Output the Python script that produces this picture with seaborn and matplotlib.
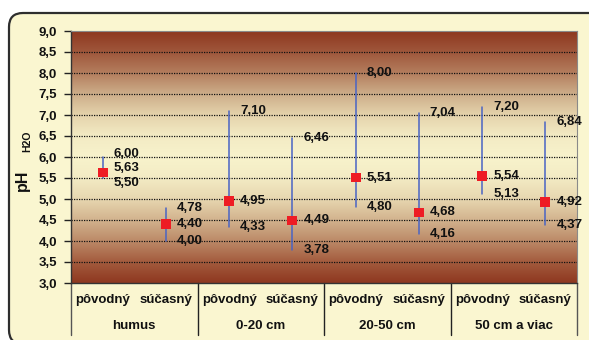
import numpy as np
import pandas as pd
import seaborn as sns
import matplotlib
matplotlib.use("Agg")
import matplotlib.pyplot as plt
from matplotlib.colors import LinearSegmentedColormap
from matplotlib.patches import FancyBboxPatch
from matplotlib.transforms import IdentityTransform

# --- data -------------------------------------------------------------
groups = ["humus", "0-20 cm", "20-50 cm", "50 cm a viac"]
states = ["pôvodný", "súčasný"]
ph_max = [6.00, 4.78, 7.10, 6.46, 8.00, 7.04, 7.20, 6.84]
ph_mean = [5.63, 4.40, 4.95, 4.49, 5.51, 4.68, 5.54, 4.92]
ph_min = [5.50, 4.00, 4.33, 3.78, 4.80, 4.16, 5.13, 4.37]
y_ticks = [3.0, 3.5, 4.0, 4.5, 5.0, 5.5, 6.0, 6.5, 7.0, 7.5, 8.0, 8.5, 9.0]

# --- styling ----------------------------------------------------------
W, H = 589, 340
FONT = "Liberation Sans"
CREAM = "#FAF6D0"
RANGE_COLOR = "#4A64C4"
MEAN_COLOR = "#EE1C24"
FS = 9.5
# vertical nudges (pixels) for labels that would otherwise collide
nudge = {0: (3, 5, -5)}

sns.set_theme(style="white")
plt.rcParams["font.family"] = [FONT, "DejaVu Sans"]
plt.rcParams["font.weight"] = "bold"

n = len(ph_mean)
pos = np.arange(n)
cats = [f"{g}|{s}" for g in groups for s in states]

ranges = pd.DataFrame({
    "pos": np.concatenate([pos, pos]),
    "ph": ph_min + ph_max,
    "cat": cats + cats,
})
means = pd.DataFrame({"pos": pos, "ph": ph_mean, "cat": cats})

fig = plt.figure(figsize=(W / 100, H / 100), dpi=100)
fig.patch.set_facecolor("white")

# rounded frame around the whole chart
frame = FancyBboxPatch((9, -4), 620, H - 13 + 4,
                       boxstyle="round,pad=0,rounding_size=14",
                       transform=IdentityTransform(), facecolor=CREAM,
                       edgecolor="#2E2E2E", linewidth=1.6, zorder=-10)
fig.patches.append(frame)

x0, x1, ytop, ybot = 71, 577, 31, 283
ax = fig.add_axes([x0 / W, 1 - ybot / H, (x1 - x0) / W, (ybot - ytop) / H])
ax.set_zorder(1)
ax.set_facecolor("none")

# soil-like vertical gradient background
grad_cmap = LinearSegmentedColormap.from_list("soil", [
    (0.00, "#8E3820"), (0.083, "#A45C3E"), (0.167, "#BC8A68"),
    (0.25, "#D2B38E"), (0.333, "#E7D7B0"), (0.417, "#F3EBC4"),
    (0.5, "#F8F3CC"), (0.583, "#F3EBC4"), (0.667, "#E5D3AC"),
    (0.75, "#CDAE8A"), (0.833, "#B47E5E"), (0.917, "#A0583C"),
    (1.00, "#8E3820"),
])
grad = np.linspace(0, 1, 256).reshape(-1, 1)
ax.imshow(grad, extent=[-0.5, n - 0.5, 3, 9], aspect="auto", origin="lower",
          cmap=grad_cmap, zorder=0)

for yv in y_ticks[1:-1]:
    ax.axhline(yv, color="#111111", lw=0.9, ls=(0, (1, 1)), zorder=1)

sns.lineplot(data=ranges, x="pos", y="ph", units="cat", estimator=None,
             color=RANGE_COLOR, lw=1.1, ax=ax, zorder=3, legend=False)
sns.scatterplot(data=means, x="pos", y="ph", marker="s", s=50,
                color=MEAN_COLOR, edgecolor="none", ax=ax, zorder=4,
                legend=False)

def fmt(v):
    return f"{v:.2f}".replace(".", ",")

for i in range(n):
    d_max, d_mean, d_min = nudge.get(i, (0, 0, 0))
    for val, dy in ((ph_max[i], d_max), (ph_mean[i], d_mean), (ph_min[i], d_min)):
        ax.annotate(fmt(val), (i, val), xytext=(11, dy),
                    textcoords="offset pixels", ha="left", va="center",
                    fontsize=FS, fontweight="bold", color="#111111",
                    zorder=5, annotation_clip=False)

ax.set_xlim(-0.5, n - 0.5)
ax.set_ylim(3, 9)
ax.set_yticks(y_ticks)
ax.set_yticklabels([f"{t:.1f}".replace(".", ",") for t in y_ticks],
                   fontsize=FS, fontweight="bold", color="#111111")
ax.set_xticks([])
ax.set_xlabel("")
ax.set_ylabel("")
ax.tick_params(axis="y", which="major", direction="out", length=5,
               width=1, color="#222222", pad=5, left=True)

for side in ("top", "right"):
    ax.spines[side].set_color("#8A8A8A")
    ax.spines[side].set_linewidth(0.8)
ax.spines["left"].set_color("#333333")
ax.spines["left"].set_linewidth(1.0)
ax.spines["bottom"].set_color("#333333")
ax.spines["bottom"].set_linewidth(1.0)

# two-level category table below the plot
tx = ax.get_xaxis_transform()
table_depth = (335 - ybot) / (ybot - ytop)
for k, xb in enumerate([-0.5, 1.5, 3.5, 5.5, 7.5]):
    ax.plot([xb, xb], [0, -table_depth], transform=tx, clip_on=False,
            color="#222222" if 0 < k < 4 else "#555555", lw=1.0)
row1 = -(300 - ybot) / (ybot - ytop)
row2 = -(326 - ybot) / (ybot - ytop)
for i in range(n):
    ax.text(i, row1, states[i % 2], transform=tx, ha="center", va="center",
            fontsize=FS, fontweight="bold", color="#111111")
for g, name in enumerate(groups):
    ax.text(2 * g + 0.5, row2, name, transform=tx, ha="center", va="center",
            fontsize=FS, fontweight="bold", color="#111111")

# y axis title with subscript
fig.text(22 / W, 1 - 180 / H, "pH", rotation=90, ha="center", va="center",
         fontsize=11.5, fontweight="bold", color="#111111")
fig.text(27 / W, 1 - 141 / H, "H2O", rotation=90, ha="center", va="center",
         fontsize=7.5, fontweight="bold", color="#111111")

fig.savefig("out.png", dpi=100)
